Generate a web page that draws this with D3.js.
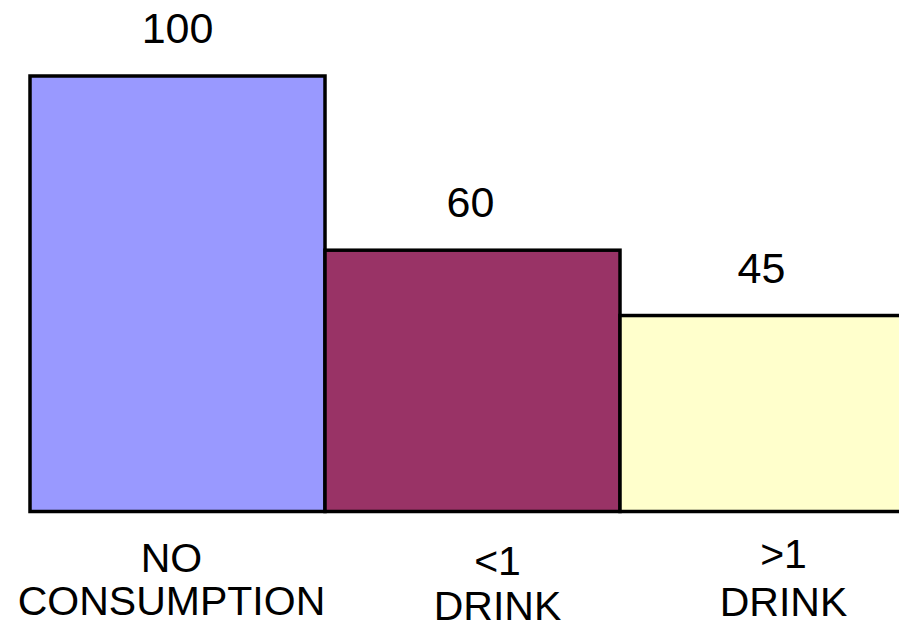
<!DOCTYPE html>
<html>
<head>
<meta charset="utf-8">
<script src="https://cdn.jsdelivr.net/npm/d3@7"></script>
<style>
  body { margin: 0; background: #fff; }
  text { font-family: "Liberation Sans", Arial, sans-serif; fill: #000; }
</style>
</head>
<body>
<div id="chart"></div>
<script>
var categories = ["NO CONSUMPTION", "<1 DRINK", ">1 DRINK"];
var labelLines = [["NO", "CONSUMPTION"], ["<1", "DRINK"], [">1", "DRINK"]];
var values = [100, 60, 45];
var colors = ["#9999FF", "#993366", "#FFFFCC"];

var width = 899, height = 629;

var svg = d3.select("#chart")
  .append("svg")
    .attr("width", width)
    .attr("height", height);

var x = d3.scaleBand()
    .domain(categories)
    .range([30, 915])
    .padding(0);

var y = d3.scaleLinear()
    .domain([0, 100])
    .range([511.5, 76]);

// bars
svg.append("g")
  .selectAll("rect")
  .data(values)
  .enter().append("rect")
    .attr("x", function(d, i) { return x(categories[i]); })
    .attr("y", function(d) { return y(d); })
    .attr("width", x.bandwidth())
    .attr("height", function(d) { return y(0) - y(d); })
    .attr("fill", function(d, i) { return colors[i]; })
    .attr("stroke", "#000")
    .attr("stroke-width", 3.5);

// value labels above bars
var valueShift = [0, -2, -6];
svg.append("g")
  .selectAll("text")
  .data(values)
  .enter().append("text")
    .attr("x", function(d, i) { return x(categories[i]) + x.bandwidth() / 2 + valueShift[i]; })
    .attr("y", function(d) { return y(d) - 33; })
    .attr("text-anchor", "middle")
    .attr("font-size", "43px")
    .text(function(d) { return d; });

// category labels (not exactly centred in the original)
var labelShift = [-6, 25, 16];
var lineBase = [[572, 615], [575, 620], [568, 616]];
var cat = svg.append("g")
  .selectAll("text")
  .data(labelLines)
  .enter().append("text")
    .attr("text-anchor", "middle")
    .attr("font-size", "41px");

cat.each(function(lines, i) {
  var cx = x(categories[i]) + x.bandwidth() / 2 + labelShift[i];
  d3.select(this).selectAll("tspan")
    .data(lines)
    .enter().append("tspan")
      .attr("x", cx)
      .attr("y", function(d, j) { return lineBase[i][j]; })
      .text(function(d) { return d; });
});
</script>
</body>
</html>
